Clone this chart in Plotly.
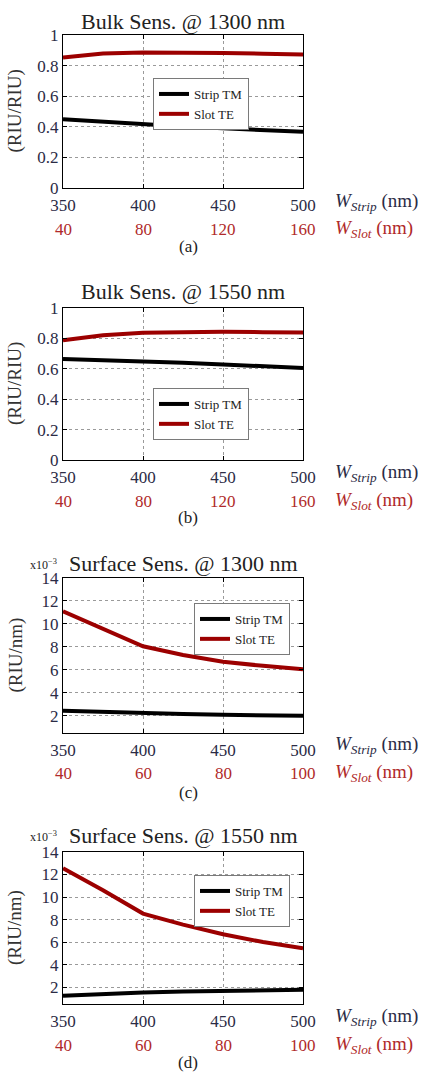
import plotly.graph_objects as go

# ---------------- data ----------------
x_width = [350, 375, 400, 425, 450, 475, 500]          # W_Strip (nm)
strip_ticks = [350, 400, 450, 500]
slot_ticks_bulk = ["40", "80", "120", "160"]           # W_Slot (nm)
slot_ticks_surf = ["40", "60", "80", "100"]

# (a) Bulk sensitivity @ 1300 nm (RIU/RIU)
strip_tm_a = [0.449, 0.432, 0.415, 0.402, 0.390, 0.378, 0.368]
slot_te_a = [0.853, 0.879, 0.885, 0.886, 0.883, 0.878, 0.872]
# (b) Bulk sensitivity @ 1550 nm (RIU/RIU)
strip_tm_b = [0.665, 0.658, 0.650, 0.639, 0.628, 0.617, 0.606]
slot_te_b = [0.787, 0.821, 0.837, 0.842, 0.843, 0.841, 0.839]
# (c) Surface sensitivity @ 1300 nm (x1e-3 RIU/nm)
strip_tm_c = [2.44, 2.33, 2.23, 2.16, 2.09, 2.04, 2.00]
slot_te_c = [11.1, 9.6, 8.05, 7.3, 6.7, 6.35, 6.06]
# (d) Surface sensitivity @ 1550 nm (x1e-3 RIU/nm)
strip_tm_d = [1.24, 1.42, 1.53, 1.60, 1.68, 1.73, 1.77]
slot_te_d = [12.55, 10.6, 8.53, 7.55, 6.7, 6.0, 5.44]

titles = ["Bulk Sens. @ 1300 nm", "Bulk Sens. @ 1550 nm",
          "Surface Sens. @ 1300 nm", "Surface Sens. @ 1550 nm"]
ylabels = ["(RIU/RIU)", "(RIU/RIU)", "(RIU/nm)", "(RIU/nm)"]
panel_tags = ["(a)", "(b)", "(c)", "(d)"]
series = [(strip_tm_a, slot_te_a), (strip_tm_b, slot_te_b),
          (strip_tm_c, slot_te_c), (strip_tm_d, slot_te_d)]
slot_labels = [slot_ticks_bulk, slot_ticks_bulk, slot_ticks_surf, slot_ticks_surf]

# ---------------- layout geometry (pixels) ----------------
W, H = 424, 1072
L, R = 63, 303
boxes = [(35, 188), (308, 460), (578, 733), (852, 1004)]
title_y = [21, 292, 563, 835]
strip_lab_y = [202, 473, 745, 1017]
slot_lab_y = [229, 501, 773, 1045]
tag_y = [247, 518, 792, 1062]
legend_pos = [(153, 78, "left"), (153, 388, "left"), (290, 603, "right"), (290, 875, "right")]

FONT = "Liberation Serif"
NAVY = "#2b2b45"
RED_TXT = "#b02a2a"
BLACK_LINE = "#000000"
RED_LINE = "#9c0000"

fig = go.Figure()
layout = dict(width=W, height=H, autosize=False, margin=dict(l=0, r=0, t=0, b=0, pad=0),
              paper_bgcolor="white", plot_bgcolor="white",
              font=dict(family=FONT, size=16, color=NAVY))
annotations = []

def py(p):
    return 1 - p / H

def ann(text, x, y, size, color, xref="paper", xanchor="center", angle=0):
    annotations.append(dict(text=text, x=x, y=y, xref=xref, yref="paper",
                            xanchor=xanchor, yanchor="middle", showarrow=False,
                            textangle=angle, font=dict(family=FONT, size=size, color=color)))

for i in range(4):
    n = "" if i == 0 else str(i + 1)
    xa, ya = "x" + n, "y" + n
    leg = "legend" + n
    strip, slot = series[i]
    fig.add_trace(go.Scatter(x=x_width, y=strip, mode="lines", name="Strip TM",
                             line=dict(color=BLACK_LINE, width=4),
                             xaxis=xa, yaxis=ya, legend=leg))
    fig.add_trace(go.Scatter(x=x_width, y=slot, mode="lines", name="Slot TE",
                             line=dict(color=RED_LINE, width=4),
                             xaxis=xa, yaxis=ya, legend=leg))
    top, bot = boxes[i]
    common = dict(showline=True, linecolor="black", linewidth=1, mirror="ticks",
                  ticks="inside", ticklen=4, tickcolor="black", automargin=False,
                  showgrid=True, gridcolor="#9a9a9a", griddash="dot", gridwidth=1,
                  zeroline=False, tickfont=dict(family=FONT, size=17, color=NAVY))
    layout["xaxis" + n] = dict(domain=[L / W, R / W], anchor=ya, range=[350, 500],
                               tickvals=strip_ticks, ticklabelstandoff=2, **common)
    if i < 2:
        yax = dict(range=[0, 1], tickvals=[0, 0.2, 0.4, 0.6, 0.8, 1],
                   ticktext=["0", "0.2", "0.4", "0.6", "0.8", "1"])
    else:
        yax = dict(range=[0.5, 14], tickvals=[2, 4, 6, 8, 10, 12, 14])
    layout["yaxis" + n] = dict(domain=[py(bot), py(top)], anchor=xa, **yax, **common)

    lx, ly, anch = legend_pos[i]
    layout[leg] = dict(x=lx / W, y=py(ly), xanchor=anch, yanchor="top",
                       bgcolor="white", bordercolor="#7a7a7a", borderwidth=1,
                       font=dict(family=FONT, size=13, color="#222"),
                       itemwidth=30, tracegroupgap=0)

    ann(titles[i], (L + R) / 2 / W, py(title_y[i]), 22, "#222")
    ann(ylabels[i], 15 / W, py((top + bot) / 2), 19, "#333", angle=-90)
    ann("<i>W</i><sub><i>Strip</i></sub> (nm)", 333 / W, py(strip_lab_y[i]), 19, NAVY,
        xanchor="left")
    ann("<i>W</i><sub><i>Slot</i></sub> (nm)", 333 / W, py(slot_lab_y[i]), 19, RED_TXT,
        xanchor="left")
    for xv, lab in zip(strip_ticks, slot_labels[i]):
        ann(lab, xv, py(slot_lab_y[i]), 17, RED_TXT, xref=xa)
    ann(panel_tags[i], 188 / W, py(tag_y[i]), 17, "#222")
    if i >= 2:
        ann("x10<sup>−3</sup>", 43 / W, py(title_y[i] + 1), 12, "#222")

layout["annotations"] = annotations
fig.update_layout(**layout)
fig.write_html("out.html", post_script="document.body.style.margin='0';",
               config={"displayModeBar": False})
